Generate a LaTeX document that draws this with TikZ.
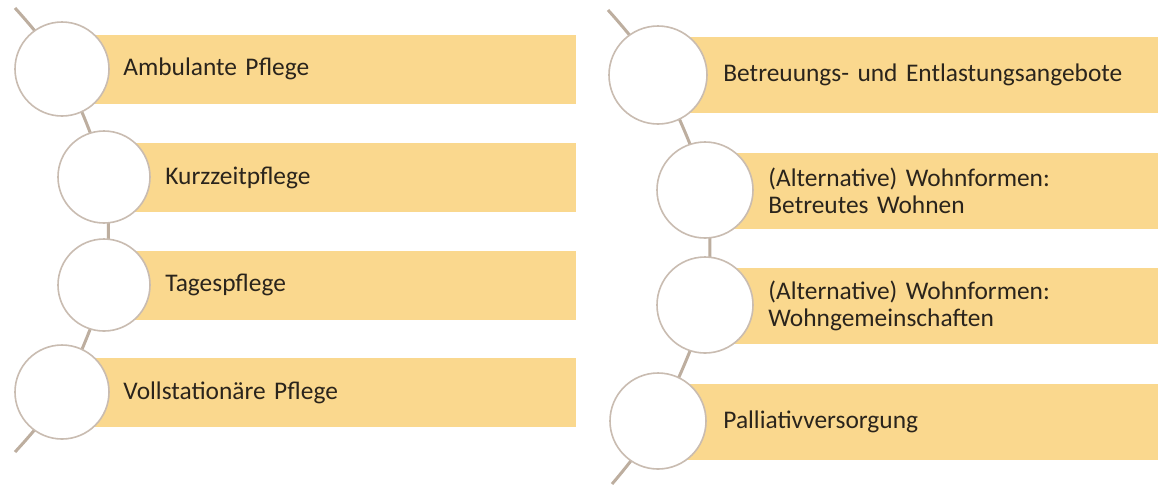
\documentclass[tikz,border=0pt]{standalone}
\usepackage{fontspec}
\setmainfont[WordSpace=0.7]{Carlito}
\definecolor{barfill}{HTML}{FAD88E}
\definecolor{ringgray}{HTML}{C9BCB1}
\definecolor{spinecol}{HTML}{BDAE9F}
\definecolor{txtcol}{HTML}{2A241C}

\begin{document}
\begin{tikzpicture}[x=0.5pt, y=-0.5pt,
      ring/.style={circle, draw=ringgray, fill=white, line width=0.8pt, minimum size=47pt, inner sep=0pt},
      bar/.style={fill=barfill, anchor=west, inner xsep=20pt, inner ysep=0pt, align=left, text=txtcol, font=\fontsize{12.7}{13.5}\selectfont},
      lbar/.style={bar, minimum height=34.5pt},
      rbar/.style={bar, minimum height=38pt},
      spine/.style={draw=spinecol, line width=1.5pt}
    ]
      \fill[white] (0,0) rectangle (1161,484);
      \useasboundingbox (0,0) rectangle (1161,484);

      % left column
      \node[lbar, text width=206.5pt] (b1) at (83,69)    {Ambulante Pflege};
      \node[lbar, text width=185.5pt] (b2) at (125,177.5) {Kurzzeitpflege};
      \node[lbar, text width=185.5pt] (b3) at (125,285)  {Tagespflege};
      \node[lbar, text width=206.5pt] (b4) at (83,392.5) {Vollstationäre Pflege};

      % right column
      \node[rbar, text width=197.5pt] (b5) at (683,75)    {\mbox{Betreuungs- und Entlastungsangebote}};
      \node[rbar, text width=175pt]   (b6) at (728,190.5) {(Alternative) Wohnformen:\\Betreutes Wohnen};
      \node[rbar, text width=175pt]   (b7) at (728,305.5) {(Alternative) Wohnformen:\\Wohngemeinschaften};
      \node[rbar, text width=197.5pt] (b8) at (683,421.5) {Palliativversorgung};

      \coordinate (ltop) at (15,8);
      \coordinate (lbot) at (15,452);
      \coordinate (rtop) at (608,10);
      \coordinate (rbot) at (612,484);

      \coordinate (p1) at (62,69);
      \coordinate (p2) at (104,177);
      \coordinate (p3) at (104,285);
      \coordinate (p4) at (62,392);
      \coordinate (p5) at (658,75);
      \coordinate (p6) at (705,190);
      \coordinate (p7) at (705,305);
      \coordinate (p8) at (658,421);

      \draw[spine] plot[smooth] coordinates {(ltop) (p1) (p2) (p3) (p4) (lbot)};
      \draw[spine] plot[smooth] coordinates {(rtop) (p5) (p6) (p7) (p8) (rbot)};

      \node[ring] (c1) at (p1) {};
      \node[ring, minimum size=46pt] (c2) at (p2) {};
      \node[ring, minimum size=46pt] (c3) at (p3) {};
      \node[ring] (c4) at (p4) {};
      \node[ring, minimum size=49pt] (c5) at (p5) {};
      \node[ring, minimum size=48pt] (c6) at (p6) {};
      \node[ring, minimum size=48pt] (c7) at (p7) {};
      \node[ring, minimum size=48pt] (c8) at (p8) {};
    \end{tikzpicture}
\end{document}
